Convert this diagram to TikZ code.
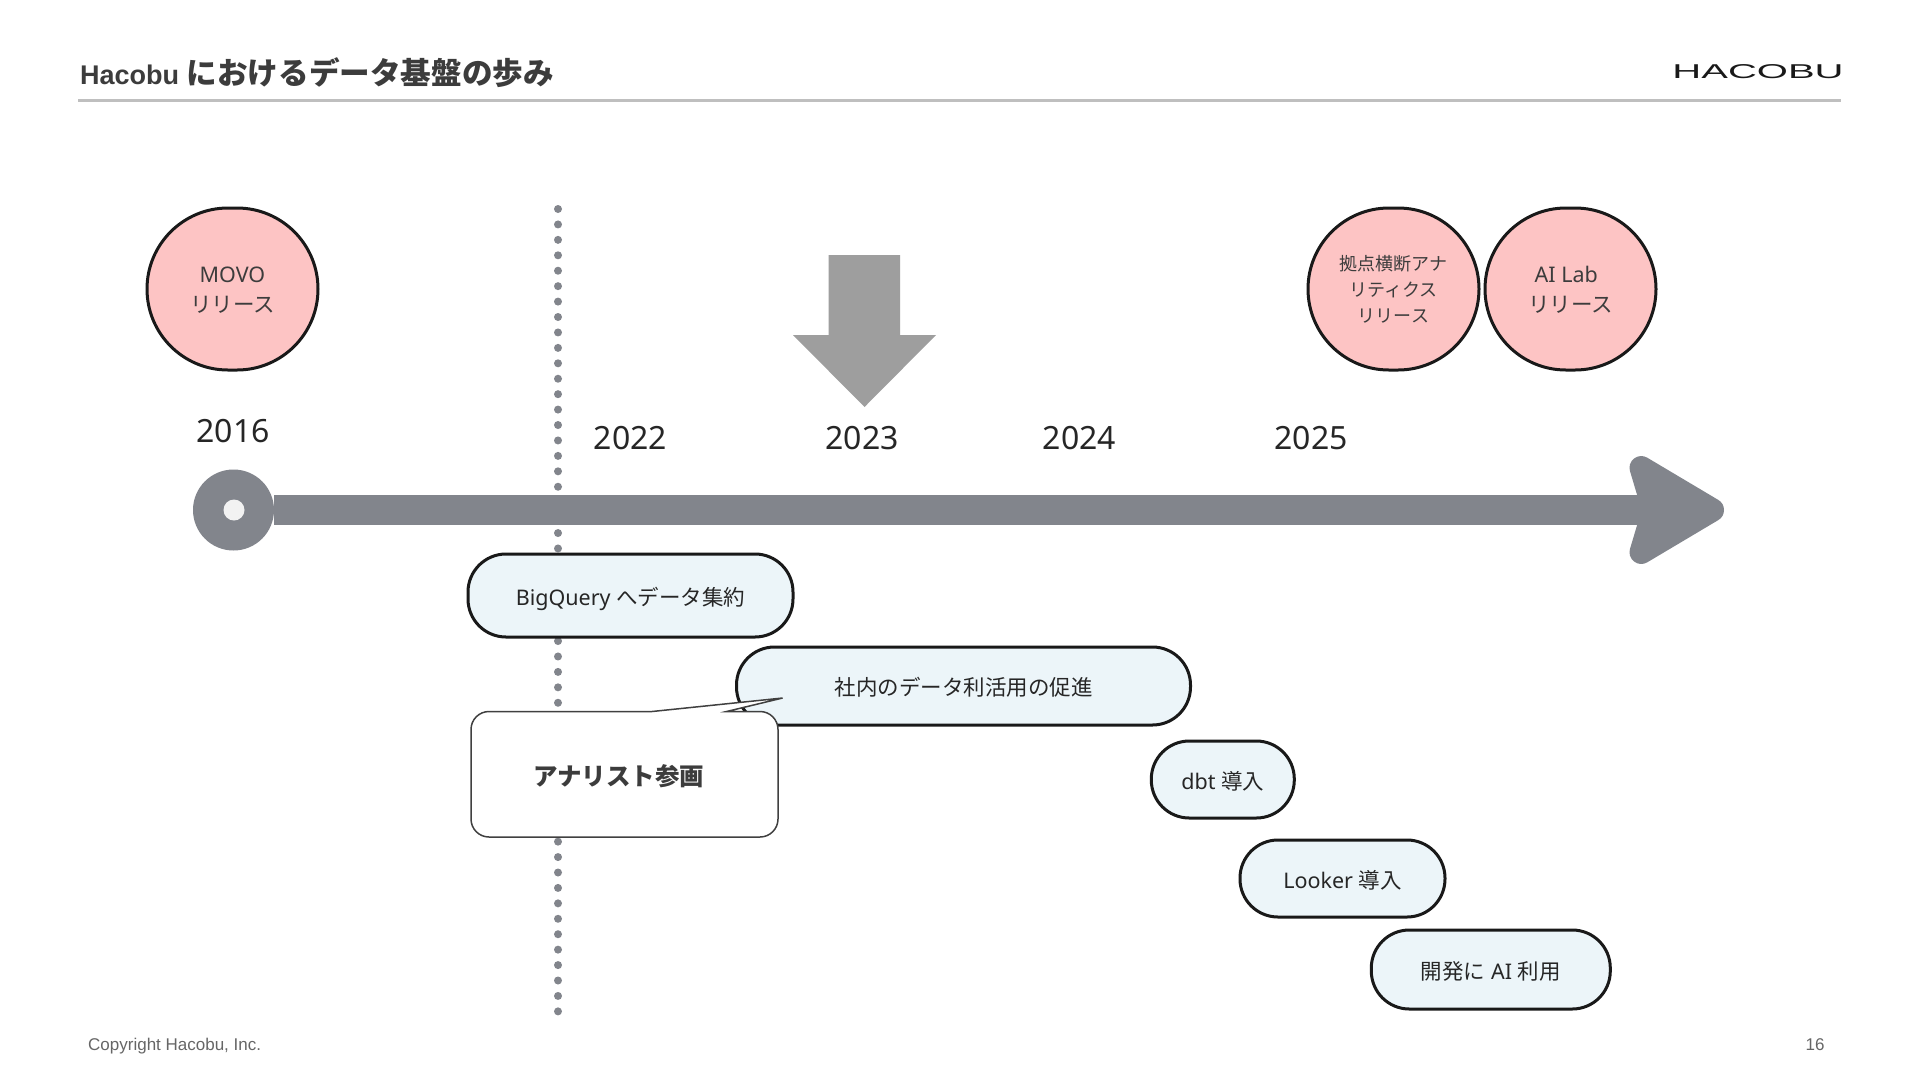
\documentclass[tikz,border=0pt]{standalone}
\usepackage{fontspec}
\usetikzlibrary{arrows.meta}
\setmainfont{Noto Sans}
\newfontfamily\jpfont{Noto Sans CJK JP}
\newfontfamily\hdfont{Liberation Sans}
\definecolor{axisgray}{HTML}{82858C}
\definecolor{bandblue}{HTML}{ECF5F9}
\definecolor{eventpink}{HTML}{FDC4C4}
\definecolor{inkgray}{HTML}{3C3C3C}
\newcommand{\jp}[1]{{\jpfont #1}}
\tikzstyle{event}=[rectangle,rounded corners=81pt,draw=black!90,line width=3pt,fill=eventpink,minimum width=171pt,minimum height=162pt,inner sep=0pt,align=center,text=inkgray,font=\fontsize{21.5}{30}\selectfont]
\tikzstyle{band}=[rectangle,rounded corners=38pt,draw=black!90,line width=3pt,fill=bandblue,inner sep=0pt,text=black!85,text height=19pt,text depth=0pt,font=\fontsize{21.5}{26}\selectfont]
\tikzstyle{yearlbl}=[text=black!85,inner sep=0pt,font=\fontsize{32}{38}\selectfont]
\tikzstyle{footer}=[text=black!60,inner sep=0pt,anchor=base,font=\hdfont\fontsize{17}{20}\selectfont]
\tikzstyle{axisline}=[axisgray,line width=30pt,-{Stealth[length=112pt,width=130pt,inset=18pt,round]}]

\begin{document}
\begin{tikzpicture}[x=1pt,y=-1pt]
            \useasboundingbox (0,0) rectangle (1920,1080);
            \fill[white] (0,0) rectangle (1920,1080);

            % header
            \node[anchor=base west,inner sep=0pt,text=inkgray,font=\hdfont\bfseries\fontsize{27}{32}\selectfont] (title) at (80,84.5) {Hacobu {\fontsize{30.6}{32}\selectfont\jp{におけるデータ基盤の歩み}}};
            \node[inner sep=0pt,text=black!90,xscale=2.0,font=\hdfont\fontsize{20}{24}\selectfont] (logo) at (1758,71.5) {HACOBU};
            \coordinate (ruleL) at (78,100);
            \coordinate (ruleR) at (1841,100);
            \draw[black!25,line width=3pt] (ruleL) -- (ruleR);

            % dotted divider behind everything
            \coordinate (dotsT) at (558,209);
            \coordinate (dotsB) at (558,1011.5);
            \draw[axisgray,line width=8pt,line cap=round,dash pattern=on 0pt off 15.43pt] (dotsT) -- (dotsB);

            % time axis
            \node[circle,fill=axisgray,minimum size=81pt,inner sep=0pt] (start) at (233.5,510) {};
            \coordinate (tip) at (1724,510);
            \draw[axisline] (start) -- (tip);
            \node[circle,fill=black!5,minimum size=21pt,inner sep=0pt] (hole) at (234,510) {};

            % years
            \node[yearlbl] (y2016) at (233,431) {2016};
            \node[yearlbl] (y2022) at (630.5,438.5) {2022};
            \node[yearlbl] (y2023) at (862,438.5) {2023};
            \node[yearlbl] (y2024) at (1079.5,438.5) {2024};
            \node[yearlbl] (y2025) at (1311,438.5) {2025};

            % releases
            \node[event] (movo) at (232.5,289) {\rule{0pt}{18pt}MOVO\\\jp{リリース}};
            \node[event,font=\fontsize{18}{26}\selectfont] (cross) at (1393.5,289) {\jp{拠点横断アナ}\\\jp{リティクス}\\\jp{リリース}};
            \node[event] (ailab) at (1570.5,289) {\rule{0pt}{18pt}AI Lab\kern8.5pt\hbox{}\\\jp{リリース}};

            \fill[black!38] (828.5,255) -- (900,255) -- (900,335) -- (936,335) -- (864.5,407) -- (793,335) -- (828.5,335) -- cycle;

            % work items
            \node[band,minimum width=325pt,minimum height=83pt] (bq) at (630.5,595.5) {BigQuery \jp{へデータ集約}};
            \node[band,minimum width=454pt,minimum height=78pt] (use) at (963.5,686) {\jp{社内のデータ利活用の促進}};
            \node[band,minimum width=143pt,minimum height=77pt] (dbt) at (1222.8,779.5) {dbt \jp{導入}};
            \node[band,minimum width=205pt,minimum height=77pt] (looker) at (1342.5,878.5) {Looker \jp{導入}};
            \node[band,minimum width=239pt,minimum height=79pt] (dev) at (1490.8,969.5) {\jp{開発に} AI \jp{利用}};

            % callout
            \draw[fill=white,draw=black!75,line width=1.5pt] (726.6,711.5) [rounded corners=18pt] -- (778,711.5) -- (778,837) -- (471,837) -- (471,711.5) [sharp corners] -- (652,711.5) -- (782.6,698) -- cycle;
            \node[inner sep=0pt,text=inkgray,font=\jpfont\bfseries\fontsize{24.5}{30}\selectfont] (analyst) at (618.5,776) {アナリスト参画};

            % footer
            \node[footer,anchor=base west] (copy) at (88,1050) {Copyright Hacobu, Inc.};
            \node[footer] (page) at (1815,1050) {16};
        \end{tikzpicture}
\end{document}
